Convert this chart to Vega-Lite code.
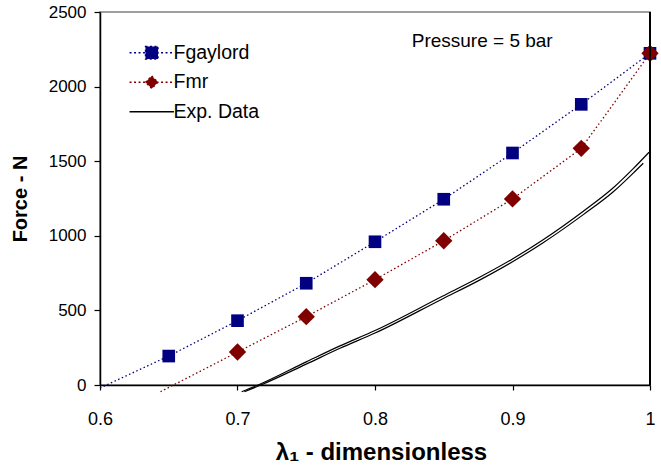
{
  "$schema": "https://vega.github.io/schema/vega-lite/v6.json",
  "autosize": "none",
  "width": 550,
  "height": 373,
  "padding": {"left": 100, "top": 12, "right": 11, "bottom": 84},
  "background": "white",
  "config": {
    "font": "Liberation Sans",
    "view": {"stroke": "#808080", "strokeWidth": 1.5},
    "axis": {"grid": false, "labelFlush": false, "domainColor": "black", "tickColor": "black", "labelColor": "black", "titleColor": "black", "domainWidth": 1.5, "tickWidth": 1.2}
  },
  "datasets": {
    "main": [
      {"series": "Fgaylord", "run": "a", "x": 0.6, "y": -20},
      {"series": "Fgaylord", "run": "a", "x": 0.65, "y": 194},
      {"series": "Fgaylord", "run": "a", "x": 0.7, "y": 431},
      {"series": "Fgaylord", "run": "a", "x": 0.75, "y": 682},
      {"series": "Fgaylord", "run": "a", "x": 0.8, "y": 960},
      {"series": "Fgaylord", "run": "a", "x": 0.85, "y": 1245},
      {"series": "Fgaylord", "run": "a", "x": 0.9, "y": 1555},
      {"series": "Fgaylord", "run": "a", "x": 0.95, "y": 1881},
      {"series": "Fgaylord", "run": "a", "x": 1.0, "y": 2223},
      {"series": "Fmr", "run": "a", "x": 0.644, "y": -45},
      {"series": "Fmr", "run": "a", "x": 0.7, "y": 221},
      {"series": "Fmr", "run": "a", "x": 0.75, "y": 458},
      {"series": "Fmr", "run": "a", "x": 0.8, "y": 706},
      {"series": "Fmr", "run": "a", "x": 0.85, "y": 967},
      {"series": "Fmr", "run": "a", "x": 0.9, "y": 1247},
      {"series": "Fmr", "run": "a", "x": 0.95, "y": 1586},
      {"series": "Fmr", "run": "a", "x": 1.0, "y": 2223},
      {"series": "Exp. Data", "run": "a", "x": 0.703, "y": -45},
      {"series": "Exp. Data", "run": "a", "x": 0.715, "y": 0},
      {"series": "Exp. Data", "run": "a", "x": 0.75, "y": 155},
      {"series": "Exp. Data", "run": "a", "x": 0.7745, "y": 262},
      {"series": "Exp. Data", "run": "a", "x": 0.8, "y": 365},
      {"series": "Exp. Data", "run": "a", "x": 0.849, "y": 595},
      {"series": "Exp. Data", "run": "a", "x": 0.875, "y": 717},
      {"series": "Exp. Data", "run": "a", "x": 0.9, "y": 845},
      {"series": "Exp. Data", "run": "a", "x": 0.922, "y": 972},
      {"series": "Exp. Data", "run": "a", "x": 0.9515, "y": 1165},
      {"series": "Exp. Data", "run": "a", "x": 0.9733, "y": 1322},
      {"series": "Exp. Data", "run": "a", "x": 0.9878, "y": 1450},
      {"series": "Exp. Data", "run": "a", "x": 0.9993, "y": 1560},
      {"series": "Exp. Data", "run": "b", "x": 0.705, "y": -45},
      {"series": "Exp. Data", "run": "b", "x": 0.717, "y": 0},
      {"series": "Exp. Data", "run": "b", "x": 0.75, "y": 140},
      {"series": "Exp. Data", "run": "b", "x": 0.7745, "y": 246},
      {"series": "Exp. Data", "run": "b", "x": 0.8, "y": 348},
      {"series": "Exp. Data", "run": "b", "x": 0.849, "y": 577},
      {"series": "Exp. Data", "run": "b", "x": 0.875, "y": 698},
      {"series": "Exp. Data", "run": "b", "x": 0.9, "y": 826},
      {"series": "Exp. Data", "run": "b", "x": 0.922, "y": 952},
      {"series": "Exp. Data", "run": "b", "x": 0.9515, "y": 1142},
      {"series": "Exp. Data", "run": "b", "x": 0.9733, "y": 1295},
      {"series": "Exp. Data", "run": "b", "x": 0.9878, "y": 1420},
      {"series": "Exp. Data", "run": "b", "x": 0.9951, "y": 1486}
    ],
    "note": [
      {"x": 0.8267, "y": 2306, "label": "Pressure = 5 bar"}
    ]
  },
  "data": {"name": "main"},
  "encoding": {
    "x": {
      "field": "x", "type": "quantitative",
      "scale": {"domain": [0.6, 1.0], "nice": false, "zero": false},
      "axis": {
        "values": [0.6, 0.7, 0.8, 0.9, 1.0],
        "labelExpr": "datum.value == 1 ? '1' : format(datum.value, '.1f')",
        "labelFontSize": 18, "labelPadding": 20, "tickSize": 5,
        "title": "λ₁ - dimensionless", "titleFontSize": 24, "titleFontWeight": "bold", "titlePadding": 12, "titleX": 281
      }
    },
    "y": {
      "field": "y", "type": "quantitative",
      "scale": {"domain": [0, 2500], "nice": false},
      "axis": {
        "values": [0, 500, 1000, 1500, 2000, 2500],
        "format": "d",
        "labelFontSize": 17, "labelPadding": 8, "tickSize": 6,
        "title": "Force - N", "titleFontSize": 20, "titleFontWeight": "bold", "titlePadding": 18
      }
    }
  },
  "layer": [
    {
      "transform": [{"filter": "datum.series != 'Exp. Data'"}],
      "mark": {"type": "line", "strokeWidth": 1.3, "strokeDash": [1.5, 2.5]},
      "encoding": {
        "color": {
          "field": "series", "type": "nominal",
          "scale": {"domain": ["Fgaylord", "Fmr", "Exp. Data"], "range": ["#000080", "#800000", "#000000"]},
          "legend": {
            "title": null, "orient": "none", "legendX": 42, "legendY": 31,
            "padding": 0, "labelFontSize": 19.5, "labelOffset": 12, "rowPadding": 8.5,
            "symbolSize": 144, "labelColor": "black",
            "encode": {
              "symbols": {
                "update": {
                  "shape": {"signal": "datum.value == 'Fgaylord' ? 'M-3.7,0H3.7M-1.05,-1.05H1.05V1.05H-1.05Z' : datum.value == 'Fmr' ? 'M-3.7,0H3.7M-1.05,0L0,-1.05L1.05,0L0,1.05Z' : 'M-3.7,0H3.7'"},
                  "size": {"value": 144},
                  "fill": {"signal": "datum.value == 'Fgaylord' ? '#000080' : datum.value == 'Fmr' ? '#800000' : 'transparent'"},
                  "stroke": {"signal": "datum.value == 'Fgaylord' ? '#000080' : datum.value == 'Fmr' ? '#800000' : '#000000'"},
                  "strokeDash": {"signal": "datum.value == 'Exp. Data' ? [1, 0] : [2, 2.5]"},
                  "strokeWidth": {"value": 1.3},
                  "opacity": {"value": 1}
                }
              }
            }
          }
        },
        "detail": {"field": "run"}
      }
    },
    {
      "transform": [{"filter": "datum.series == 'Exp. Data'"}],
      "mark": {"type": "line", "strokeWidth": 1.2, "interpolate": "monotone"},
      "encoding": {
        "color": {"field": "series", "type": "nominal"},
        "detail": {"field": "run"}
      }
    },
    {
      "transform": [{"filter": "datum.series == 'Fgaylord' && datum.y > 0"}],
      "mark": {"type": "point", "filled": true, "opacity": 1, "size": 160, "shape": "square"},
      "encoding": {
        "color": {"field": "series", "type": "nominal"}
      }
    },
    {
      "transform": [{"filter": "datum.series == 'Fmr' && datum.y > 0"}],
      "mark": {"type": "point", "filled": true, "opacity": 1, "size": 300, "shape": "diamond"},
      "encoding": {
        "color": {"field": "series", "type": "nominal"}
      }
    },
    {
      "mark": {"type": "rule", "color": "black", "strokeWidth": 1.5},
      "encoding": {"x": {"datum": 1.0}, "y": null}
    },
    {
      "data": {"name": "note"},
      "mark": {"type": "text", "align": "left", "baseline": "middle", "fontSize": 19, "color": "black"},
      "encoding": {"text": {"field": "label"}}
    }
  ]
}
